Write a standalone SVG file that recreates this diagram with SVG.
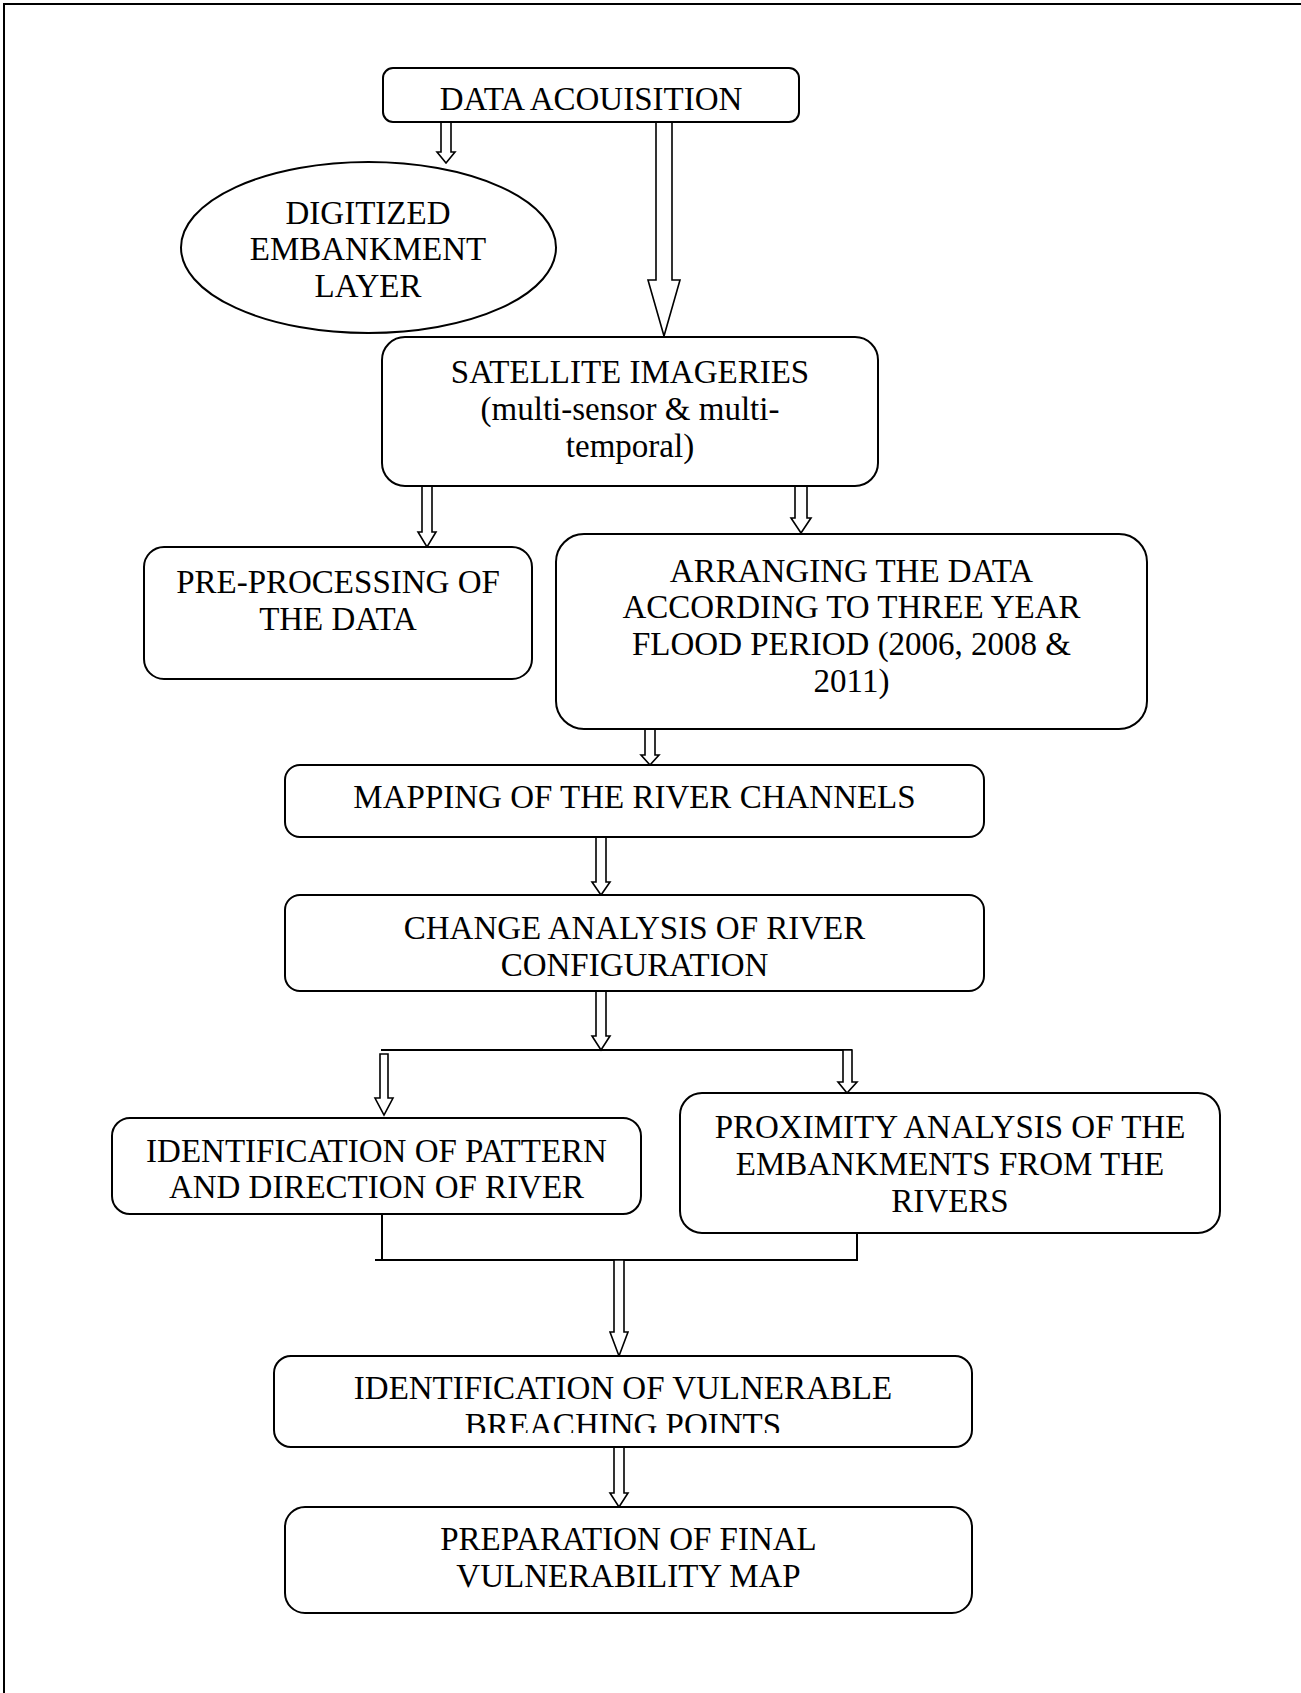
<svg xmlns="http://www.w3.org/2000/svg" width="1301" height="1693" viewBox="0 0 1301 1693">
<style>
.box{fill:#fff;stroke:#000;stroke-width:2}
.t{font-family:"Liberation Serif","Times New Roman",serif;font-size:33px;fill:#000;text-anchor:middle}
.arr{fill:#fff;stroke:#000;stroke-width:1.6;stroke-linejoin:miter}
.ln{fill:none;stroke:#000;stroke-width:2}
</style>
<defs>
<clipPath id="clipV"><rect x="274" y="1356" width="698" height="77"/></clipPath>
</defs>
<rect x="0" y="0" width="1301" height="1693" fill="#fff"/>
<path class="ln" d="M4 1693 V4 H1301"/>

<g id="connectors">
<path class="arr" d="M441 122 V152 H437 L446 163 L455 152 H451 V122 Z"/>
<path class="arr" d="M656 122 V280 H648 L664 336 L680 280 H672 V122 Z"/>
<path class="arr" d="M422 486 V532 H418 L427 547 L436 532 H432 V486 Z"/>
<path class="arr" d="M795 486 V518 H791 L801 533 L811 518 H807 V486 Z"/>
<path class="arr" d="M645 729 V755 H641 L650 765 L659 755 H655 V729 Z"/>
<path class="arr" d="M596 837 V882 H592 L601 895 L610 882 H606 V837 Z"/>
<path class="arr" d="M596 991 V1036 H592 L601 1050 L610 1036 H606 V991 Z"/>
<path class="ln" d="M381 1050 H852"/>
<path class="arr" d="M380 1054 V1098 H375 L384 1115 L393 1098 H388 V1054 Z"/>
<path class="arr" d="M843 1050 V1082 H838 L847 1093 L857 1082 H852 V1050 Z"/>
<path class="ln" d="M382 1214 V1260 M857 1233 V1260 M375 1260 H858"/>
<path class="arr" d="M614 1260 V1332 H610 L619 1356 L628 1332 H624 V1260 Z"/>
<path class="arr" d="M614 1447 V1493 H610 L619 1507 L628 1493 H624 V1447 Z"/>
</g>

<g id="n1">
<rect class="box" x="383" y="68" width="416" height="54" rx="10"/>
<text class="t" x="591" y="110">DATA ACOUISITION</text>
</g>
<g id="n2">
<ellipse class="box" cx="368.5" cy="247.5" rx="187.5" ry="85.5"/>
<text class="t" x="368" y="224">DIGITIZED</text>
<text class="t" x="368" y="260">EMBANKMENT</text>
<text class="t" x="368" y="297">LAYER</text>
</g>
<g id="n3">
<rect class="box" x="382" y="337" width="496" height="149" rx="23"/>
<text class="t" x="630" y="383">SATELLITE IMAGERIES</text>
<text class="t" x="630" y="420">(multi-sensor &amp; multi-</text>
<text class="t" x="630" y="457">temporal)</text>
</g>
<g id="n4">
<rect class="box" x="144" y="547" width="388" height="132" rx="20"/>
<text class="t" x="338" y="593">PRE-PROCESSING OF</text>
<text class="t" x="338" y="630">THE DATA</text>
</g>
<g id="n5">
<rect class="box" x="556" y="534" width="591" height="195" rx="28"/>
<text class="t" x="851.5" y="582">ARRANGING THE DATA</text>
<text class="t" x="851.5" y="618">ACCORDING TO THREE YEAR</text>
<text class="t" x="851.5" y="655">FLOOD PERIOD (2006, 2008 &amp;</text>
<text class="t" x="851.5" y="692">2011)</text>
</g>
<g id="n6">
<rect class="box" x="285" y="765" width="699" height="72" rx="15"/>
<text class="t" x="634.5" y="808">MAPPING OF THE RIVER CHANNELS</text>
</g>
<g id="n7">
<rect class="box" x="285" y="895" width="699" height="96" rx="15"/>
<text class="t" x="634.5" y="939">CHANGE ANALYSIS OF RIVER</text>
<text class="t" x="634.5" y="976">CONFIGURATION</text>
</g>
<g id="n8">
<rect class="box" x="112" y="1118" width="529" height="96" rx="18"/>
<text class="t" x="376.5" y="1162">IDENTIFICATION OF PATTERN</text>
<text class="t" x="376.5" y="1198">AND DIRECTION OF RIVER</text>
</g>
<g id="n9">
<rect class="box" x="680" y="1093" width="540" height="140" rx="22"/>
<text class="t" x="950" y="1138">PROXIMITY ANALYSIS OF THE</text>
<text class="t" x="950" y="1175">EMBANKMENTS FROM THE</text>
<text class="t" x="950" y="1212">RIVERS</text>
</g>
<g id="n10">
<rect class="box" x="274" y="1356" width="698" height="91" rx="17"/>
<text class="t" x="623" y="1399">IDENTIFICATION OF VULNERABLE</text>
<text class="t" x="623" y="1436" clip-path="url(#clipV)">BREACHING POINTS</text>
</g>
<g id="n11">
<rect class="box" x="285" y="1507" width="687" height="106" rx="20"/>
<text class="t" x="628.5" y="1550">PREPARATION OF FINAL</text>
<text class="t" x="628.5" y="1587">VULNERABILITY MAP</text>
</g>
</svg>
